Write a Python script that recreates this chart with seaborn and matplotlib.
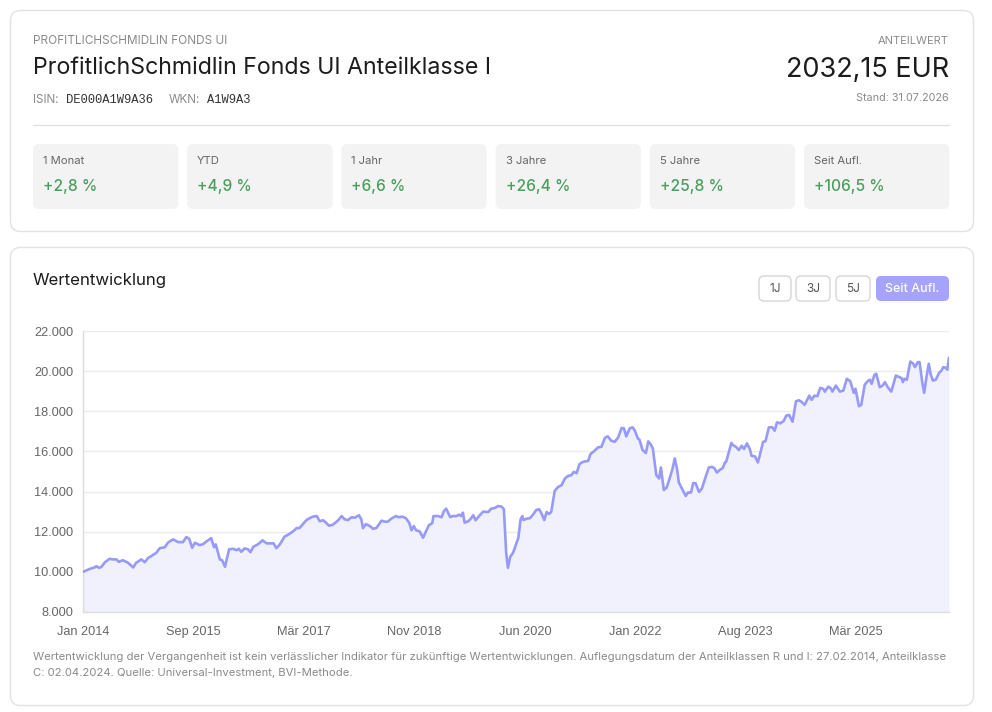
import matplotlib
matplotlib.use("Agg")
import matplotlib.pyplot as plt
from matplotlib.patches import FancyBboxPatch
from matplotlib.lines import Line2D
import seaborn as sns
import pandas as pd

# ---------------- data ----------------
fund_label = "PROFITLICHSCHMIDLIN FONDS UI"
fund_title = "ProfitlichSchmidlin Fonds UI Anteilklasse I"
isin = "DE000A1W9A36"
wkn = "A1W9A3"
nav_text = "2032,15 EUR"
stand_text = "Stand: 31.07.2026"

perf_labels = ["1 Monat", "YTD", "1 Jahr", "3 Jahre", "5 Jahre", "Seit Aufl."]
perf_values = ["+2,8 %", "+4,9 %", "+6,6 %", "+26,4 %", "+25,8 %", "+106,5 %"]

range_buttons = ["1J", "3J", "5J", "Seit Aufl."]

# months since Jan 2014 (Jul 2026 = 150)
months = [0.0, 1.2, 2.0, 2.3, 2.8, 3.2, 3.8, 4.6, 5.2, 5.8, 6.2, 6.9, 7.8, 8.7, 9.2, 10.1,
          10.7, 11.3, 11.8, 12.7, 13.3, 14.2, 14.7, 15.6, 16.5, 17.3, 17.9, 18.4, 18.9, 19.4,
          20.2, 20.8, 21.4, 22.2, 22.7, 23.0, 23.7, 24.1, 24.6, 25.3, 26.0, 26.6, 27.0, 27.4,
          28.0, 28.6, 29.0, 29.5, 30.3, 31.1, 31.8, 32.6, 33.0, 33.5, 34.1, 34.9, 35.8, 36.4,
          37.0, 37.5, 38.1, 38.7, 39.3, 39.8, 40.5, 41.0, 41.6, 42.2, 42.6, 43.3, 44.2, 44.8,
          45.3, 45.9, 46.5, 47.1, 47.8, 48.2, 48.5, 49.0, 49.7, 50.2, 50.8, 51.4, 51.7, 52.3,
          52.8, 53.4, 54.2, 54.7, 55.3, 55.9, 56.5, 56.9, 57.3, 57.7, 58.3, 58.9, 59.5, 59.9,
          60.5, 60.7, 61.5, 62.1, 62.5, 62.9, 63.6, 64.1, 64.7, 65.1, 65.5, 65.8, 66.1, 66.7,
          67.1, 67.6, 68.0, 68.6, 69.3, 70.2, 70.7, 71.3, 71.9, 72.5, 72.9, 73.3, 73.6, 74.0,
          74.5, 75.1, 75.4, 75.8, 76.1, 76.3, 76.8, 77.4, 78.0, 78.5, 79.0, 79.4, 79.9, 80.3,
          80.7, 81.1, 81.7, 82.3, 82.9, 83.4, 84.0, 84.6, 85.0, 85.5, 86.0, 86.6, 87.5, 87.9,
          88.6, 89.2, 89.8, 90.4, 90.9, 91.5, 92.1, 92.7, 93.3, 93.7, 94.1, 94.7, 95.2, 95.6,
          96.1, 96.4, 96.9, 97.5, 97.9, 98.3, 98.7, 99.3, 99.8, 100.1, 100.6, 101.1, 101.6,
          102.1, 102.5, 102.9, 103.2, 103.8, 104.4, 104.8, 105.3, 105.7, 106.1, 106.7, 107.2,
          107.9, 108.4, 109.0, 109.4, 109.8, 110.3, 110.8, 111.2, 111.4, 111.9, 112.3, 112.6,
          113.2, 113.6, 114.1, 114.5, 115.0, 115.5, 115.8, 116.4, 116.9, 117.2, 117.8, 118.2,
          118.8, 119.4, 119.8, 120.2, 120.8, 121.4, 121.8, 122.3, 122.9, 123.5, 124.0, 124.4,
          125.0, 125.8, 126.2, 126.7, 127.2, 127.7, 128.2, 128.5, 129.1, 129.5, 129.8, 130.4,
          131.1, 131.7, 132.3, 132.9, 133.5, 133.8, 134.4, 134.8, 135.4, 136.0, 136.3, 136.6,
          137.1, 137.4, 138.0, 138.5, 138.9, 139.4, 140.0, 140.8, 141.4, 141.8, 142.0, 142.3,
          142.7, 143.3, 143.8, 144.1, 144.6, 144.9, 145.4, 145.7, 146.1, 146.5, 146.8, 147.2,
          147.7, 148.3, 148.7, 149.0, 149.4, 149.7, 150.0]
values = [10000, 10150, 10220, 10280, 10200, 10250, 10480, 10650, 10620, 10620, 10500, 10580,
          10450, 10220, 10450, 10620, 10480, 10700, 10780, 10950, 11180, 11230, 11450, 11620,
          11480, 11480, 11730, 11650, 11200, 11450, 11330, 11380, 11520, 11680, 11230, 11370,
          10620, 10580, 10250, 11120, 11150, 11080, 11150, 11000, 11170, 11120, 10980, 11250,
          11370, 11570, 11420, 11420, 11420, 11180, 11370, 11750, 11900, 12020, 12180, 12180,
          12380, 12580, 12680, 12750, 12780, 12520, 12570, 12420, 12300, 12350, 12570, 12780,
          12620, 12580, 12720, 12700, 12820, 12620, 12180, 12380, 12280, 12150, 12180, 12420,
          12550, 12500, 12500, 12650, 12780, 12720, 12750, 12680, 12450, 12070, 12280, 12070,
          12020, 11700, 12070, 12320, 12430, 12780, 12780, 12720, 13020, 13150, 12730, 12780,
          12780, 12850, 12780, 12950, 12450, 12520, 12620, 12820, 12570, 12780, 13000, 12980,
          13150, 13180, 13280, 13250, 13120, 10950, 10200, 10750, 10950, 11450, 11680, 12620,
          12780, 12580, 12650, 12670, 12870, 13080, 13120, 12920, 12580, 12980, 12880, 12980,
          14030, 14230, 14320, 14620, 14780, 14820, 14980, 14920, 15370, 15480, 15530, 15870,
          16030, 16200, 16230, 16680, 16750, 16530, 16480, 16700, 17170, 17150, 16750, 17150,
          17200, 17030, 16650, 16580, 16080, 15920, 16500, 16370, 16150, 14820, 14650, 15200,
          14080, 14200, 14650, 15120, 15650, 15120, 14450, 14120, 13780, 13950, 13950, 14420,
          14420, 13980, 14150, 14780, 15200, 15230, 15150, 14950, 15080, 15170, 15450, 15480,
          16000, 16420, 16320, 16200, 16070, 16280, 16120, 16400, 16120, 15780, 15750, 15450,
          15780, 16480, 16500, 17200, 17200, 17030, 17450, 17400, 17530, 17780, 17820, 17480,
          18500, 18550, 18480, 18320, 18780, 18570, 18780, 18750, 19170, 19120, 18980, 19230,
          19150, 18980, 19280, 18980, 19030, 19620, 19500, 18920, 19120, 18250, 18320, 19320,
          19530, 19570, 19370, 19820, 19870, 19200, 19280, 19450, 19200, 18980, 19780, 19700,
          19650, 19450, 19620, 19570, 20480, 20370, 20200, 20450, 20450, 19370, 18920, 19700,
          20370, 19870, 19530, 19570, 19920, 20030, 20200, 20170, 20070, 20670]

x_tick_labels = ["Jan 2014", "Sep 2015", "Mär 2017", "Nov 2018", "Jun 2020", "Jan 2022",
                 "Aug 2023", "Mär 2025"]
y_ticks = [8000, 10000, 12000, 14000, 16000, 18000, 20000, 22000]

footer = ("Wertentwicklung der Vergangenheit ist kein verlässlicher Indikator für zukünftige "
          "Wertentwicklungen. Auflegungsdatum der Anteilklassen R und I: 27.02.2014, Anteilklasse\n"
          "C: 02.04.2024. Quelle: Universal-Investment, BVI-Methode.")

# ---------------- style ----------------
sns.set_theme(style="white")
UI_FONT = ["Inter", "DejaVu Sans"]
CHART_FONT = ["Liberation Sans", "DejaVu Sans"]
MONO = ["Liberation Mono", "DejaVu Sans Mono"]
plt.rcParams["font.family"] = UI_FONT

W, H = 992, 712
fig = plt.figure(figsize=(W / 100, H / 100), dpi=100)
fig.patch.set_facecolor("white")


def fx(x):
    return x / W


def fy(y):
    return 1 - y / H


def box(x0, y0, x1, y1, fc, ec="none", r=6, lw=1.0, z=-5):
    p = FancyBboxPatch((fx(x0), fy(y1)), fx(x1 - x0), (y1 - y0) / H,
                       boxstyle=f"round,pad=0,rounding_size={r / W}",
                       transform=fig.transFigure, facecolor=fc, edgecolor=ec,
                       linewidth=lw, zorder=z, mutation_aspect=W / H)
    fig.patches.append(p)


def text(x, y, s, size, color, ha="left", va="center", family=UI_FONT, weight="normal", **kw):
    fig.text(fx(x), fy(y), s, fontsize=size, color=color, ha=ha, va=va,
             family=family, weight=weight, **kw)


GRAY = "#8a8a8a"
DARK = "#1c1c1c"
GREEN = "#4a9f5c"

# cards
box(10.5, 10.5, 973.5, 231.5, "white", "#e2e2e2", r=10, z=-10)
box(10.5, 247.5, 973.5, 705.5, "white", "#e2e2e2", r=10, z=-10)

# header
text(33, 41, fund_label, 8.5, GRAY)
text(33, 67.5, fund_title, 16.7, DARK)
text(33, 100, "ISIN:", 8.4, GRAY)
text(66, 100, isin, 8.7, "#333333", family=MONO)
text(169, 100, "WKN:", 8.4, GRAY)
text(207, 100, wkn, 8.7, "#333333", family=MONO)
text(949, 41, "ANTEILWERT", 8.0, GRAY, ha="right")
text(949, 70.5, nav_text, 19.5, DARK, ha="right")
text(949, 98, stand_text, 7.8, GRAY, ha="right")
fig.add_artist(Line2D([fx(33), fx(949)], [fy(124.5), fy(124.5)], color="#e2e2e2",
                      lw=1, transform=fig.transFigure))

# performance boxes
bx0, bw, gap = 33, 145.3, 8.9
for i, (lab, val) in enumerate(zip(perf_labels, perf_values)):
    x0 = bx0 + i * (bw + gap)
    box(x0, 144, x0 + bw, 209, "#f3f3f3", r=6)
    text(x0 + 10, 161, lab, 8.1, "#666666")
    text(x0 + 10, 186.5, val, 11.2, GREEN, weight="medium")

# chart section header
text(33, 280.5, "Wertentwicklung", 12.1, DARK)
btn_x = [(759, 791), (796, 830), (836, 870), (876, 949)]
for (a, b), lab in zip(btn_x, range_buttons):
    active = lab == "Seit Aufl."
    box(a, 276, b, 301, "#a5a4fa" if active else "white",
        "none" if active else "#d6d6d6", r=5)
    text((a + b) / 2, 289, lab, 9.0 if active else 8.5, "white" if active else "#555555",
         ha="center", weight="medium" if active else "normal")

# ---------------- chart ----------------
ax = fig.add_axes([fx(83), fy(612), fx(949 - 83), (612 - 331) / H])
df = pd.DataFrame({"month": months, "value": values})
LINE = "#979af8"
ax.fill_between(df["month"], df["value"], 8000, color="#f1f1fd", lw=0, zorder=1)
sns.lineplot(data=df, x="month", y="value", ax=ax, color=LINE, lw=1.9, zorder=3)

ax.set_xlim(0, 150)
ax.set_ylim(8000, 22000)
ax.set_yticks(y_ticks)
ax.set_yticklabels([f"{v:,}".replace(",", ".") for v in y_ticks])
tick_step = 150 / 7.84
ax.set_xticks([i * tick_step for i in range(len(x_tick_labels))])
ax.set_xticklabels(x_tick_labels)
ax.set_xlabel("")
ax.set_ylabel("")
ax.grid(axis="y", color="#ececec", lw=1)
ax.grid(axis="x", visible=False)
ax.set_axisbelow(True)
for s in ["top", "right"]:
    ax.spines[s].set_visible(False)
for s in ["left", "bottom"]:
    ax.spines[s].set_color("#dcdcdc")
    ax.spines[s].set_linewidth(1)
ax.tick_params(axis="y", length=4, color="#ececec", pad=3, labelsize=9.2, labelcolor="#666666")
ax.tick_params(axis="x", length=0, pad=10, labelsize=9.2, labelcolor="#666666")
for lbl in ax.get_xticklabels() + ax.get_yticklabels():
    lbl.set_family(CHART_FONT)
ax.set_facecolor("none")

# footer
text(33, 665, footer, 8.15, GRAY, va="center", linespacing=1.75)

fig.savefig("out.png", dpi=100, facecolor="white")
